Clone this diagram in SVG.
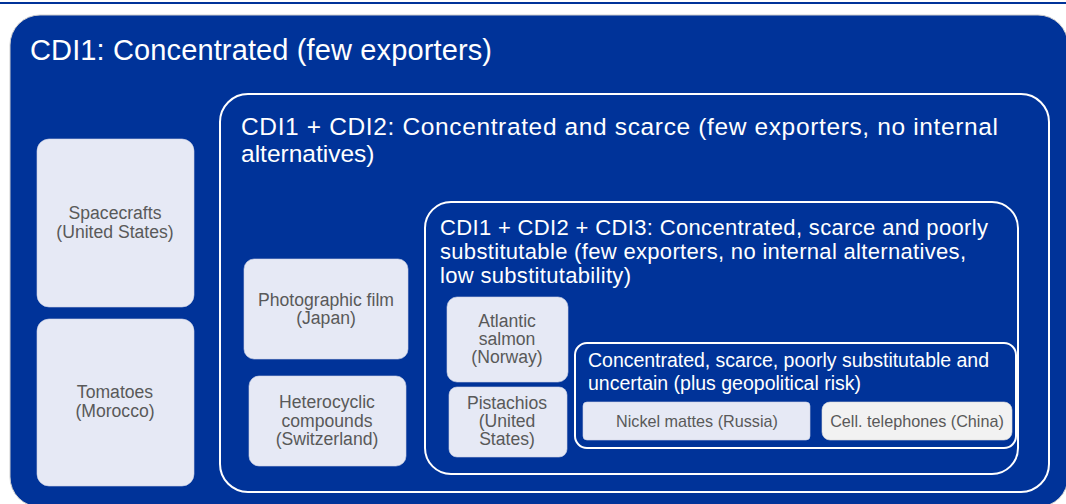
<svg xmlns="http://www.w3.org/2000/svg" width="1066" height="504" viewBox="0 0 1066 504">
<style>
.bg{fill:#ffffff}
.frame{fill:none;stroke:#ffffff;stroke-width:2}
.box{fill:#e6e9f5;stroke:#d0d5e6;stroke-width:0.6}
.box2{fill:#f2f2f2;stroke:#d9d9d9;stroke-width:0.6}
.hd{font-family:"Liberation Sans",Arial,sans-serif;fill:#ffffff}
.lb{font-family:"Liberation Sans",Arial,sans-serif;fill:#595959;font-size:17.6px;text-anchor:middle}
.sm{font-family:"Liberation Sans",Arial,sans-serif;fill:#595959;font-size:16.2px;text-anchor:middle}
</style>
<rect class="bg" x="0" y="0" width="1066" height="504"/>
<line x1="0" y1="3" x2="1066" y2="3" stroke="#003399" stroke-width="2"/>
<g id="cdi1">
<rect x="10" y="15" width="1058" height="492" rx="30" fill="#003399" stroke="#cfcfcf" stroke-width="1"/>
<text class="hd" x="30" y="60" font-size="29" textLength="462" lengthAdjust="spacing">CDI1: Concentrated (few exporters)</text>
</g>
<g id="spacecrafts">
<rect class="box" x="37" y="139" width="157" height="168" rx="12"/>
<text class="lb" x="115" y="219">Spacecrafts</text>
<text class="lb" x="115" y="238">(United States)</text>
</g>
<g id="tomatoes">
<rect class="box" x="37" y="319" width="157" height="167" rx="12"/>
<text class="lb" x="115" y="398">Tomatoes</text>
<text class="lb" x="115" y="417">(Morocco)</text>
</g>
<g id="cdi12">
<rect class="frame" x="220" y="94" width="829" height="398" rx="28"/>
<text class="hd" x="241" y="135" font-size="24.5" textLength="757" lengthAdjust="spacing">CDI1 + CDI2: Concentrated and scarce (few exporters, no internal</text>
<text class="hd" x="241" y="162" font-size="24.5">alternatives)</text>
</g>
<g id="photofilm">
<rect class="box" x="244" y="259" width="164" height="100" rx="10"/>
<text class="lb" x="326" y="306">Photographic film</text>
<text class="lb" x="326" y="324">(Japan)</text>
</g>
<g id="heterocyclic">
<rect class="box" x="249" y="376" width="157" height="90" rx="10"/>
<text class="lb" x="327" y="408">Heterocyclic</text>
<text class="lb" x="327" y="427">compounds</text>
<text class="lb" x="327" y="445">(Switzerland)</text>
</g>
<g id="cdi123">
<rect class="frame" x="425" y="202" width="593" height="272" rx="26"/>
<text class="hd" x="440" y="235" font-size="22" textLength="548" lengthAdjust="spacing">CDI1 + CDI2 + CDI3: Concentrated, scarce and poorly</text>
<text class="hd" x="440" y="259" font-size="22" textLength="526" lengthAdjust="spacing">substitutable (few exporters, no internal alternatives,</text>
<text class="hd" x="440" y="283" font-size="22" textLength="191" lengthAdjust="spacing">low substitutability)</text>
</g>
<g id="salmon">
<rect class="box" x="447" y="297" width="121" height="85" rx="10"/>
<text class="lb" x="507" y="327">Atlantic</text>
<text class="lb" x="507" y="345">salmon</text>
<text class="lb" x="507" y="363">(Norway)</text>
</g>
<g id="pistachios">
<rect class="box" x="449" y="387" width="118" height="70" rx="8"/>
<text class="lb" x="507" y="409">Pistachios</text>
<text class="lb" x="507" y="427">(United</text>
<text class="lb" x="507" y="445">States)</text>
</g>
<g id="geo">
<rect class="frame" x="575" y="343" width="441" height="105" rx="12"/>
<text class="hd" x="588" y="367" font-size="19.5" textLength="401" lengthAdjust="spacing">Concentrated, scarce, poorly substitutable and</text>
<text class="hd" x="588" y="390" font-size="19.5" textLength="273" lengthAdjust="spacing">uncertain (plus geopolitical risk)</text>
</g>
<g id="nickel">
<rect class="box" x="583" y="402" width="227" height="38" rx="4"/>
<text class="sm" x="697" y="427">Nickel mattes (Russia)</text>
</g>
<g id="telephones">
<rect class="box2" x="822" y="402" width="190" height="38" rx="8"/>
<text class="sm" x="917" y="427">Cell. telephones (China)</text>
</g>
</svg>
